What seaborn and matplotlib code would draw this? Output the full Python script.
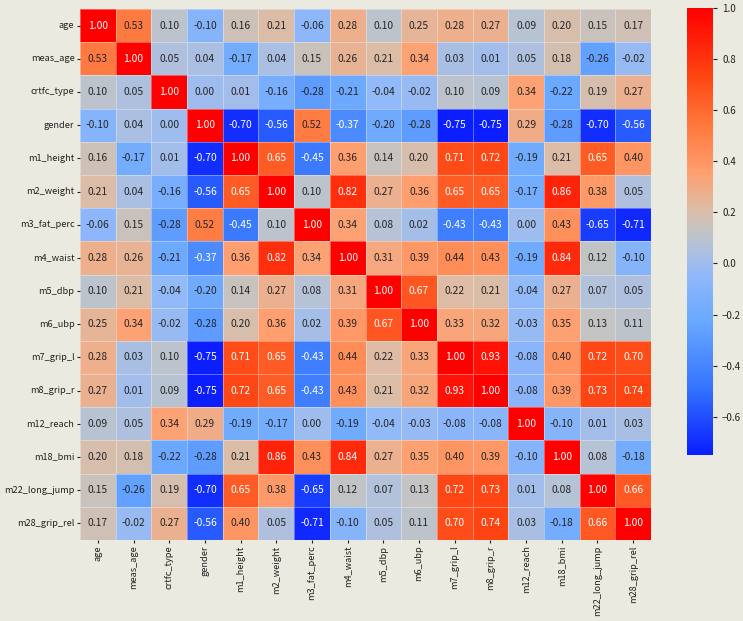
import numpy as np
import pandas as pd
import matplotlib
matplotlib.use("Agg")
import matplotlib.pyplot as plt
import seaborn as sns
from matplotlib.colors import LinearSegmentedColormap

# Variable names (rows and columns of the correlation matrix)
labels = ["age", "meas_age", "crtfc_type", "gender", "m1_height", "m2_weight",
          "m3_fat_perc", "m4_waist", "m5_dbp", "m6_ubp", "m7_grip_l", "m8_grip_r",
          "m12_reach", "m18_bmi", "m22_long_jump", "m28_grip_rel"]

# Correlation values, one row per variable
age = [1.00, 0.53, 0.10, -0.10, 0.16, 0.21, -0.06, 0.28, 0.10, 0.25, 0.28, 0.27, 0.09, 0.20, 0.15, 0.17]
meas_age = [0.53, 1.00, 0.05, 0.04, -0.17, 0.04, 0.15, 0.26, 0.21, 0.34, 0.03, 0.01, 0.05, 0.18, -0.26, -0.02]
crtfc_type = [0.10, 0.05, 1.00, 0.00, 0.01, -0.16, -0.28, -0.21, -0.04, -0.02, 0.10, 0.09, 0.34, -0.22, 0.19, 0.27]
gender = [-0.10, 0.04, 0.00, 1.00, -0.70, -0.56, 0.52, -0.37, -0.20, -0.28, -0.75, -0.75, 0.29, -0.28, -0.70, -0.56]
m1_height = [0.16, -0.17, 0.01, -0.70, 1.00, 0.65, -0.45, 0.36, 0.14, 0.20, 0.71, 0.72, -0.19, 0.21, 0.65, 0.40]
m2_weight = [0.21, 0.04, -0.16, -0.56, 0.65, 1.00, 0.10, 0.82, 0.27, 0.36, 0.65, 0.65, -0.17, 0.86, 0.38, 0.05]
m3_fat_perc = [-0.06, 0.15, -0.28, 0.52, -0.45, 0.10, 1.00, 0.34, 0.08, 0.02, -0.43, -0.43, 0.00, 0.43, -0.65, -0.71]
m4_waist = [0.28, 0.26, -0.21, -0.37, 0.36, 0.82, 0.34, 1.00, 0.31, 0.39, 0.44, 0.43, -0.19, 0.84, 0.12, -0.10]
m5_dbp = [0.10, 0.21, -0.04, -0.20, 0.14, 0.27, 0.08, 0.31, 1.00, 0.67, 0.22, 0.21, -0.04, 0.27, 0.07, 0.05]
m6_ubp = [0.25, 0.34, -0.02, -0.28, 0.20, 0.36, 0.02, 0.39, 0.67, 1.00, 0.33, 0.32, -0.03, 0.35, 0.13, 0.11]
m7_grip_l = [0.28, 0.03, 0.10, -0.75, 0.71, 0.65, -0.43, 0.44, 0.22, 0.33, 1.00, 0.93, -0.08, 0.40, 0.72, 0.70]
m8_grip_r = [0.27, 0.01, 0.09, -0.75, 0.72, 0.65, -0.43, 0.43, 0.21, 0.32, 0.93, 1.00, -0.08, 0.39, 0.73, 0.74]
m12_reach = [0.09, 0.05, 0.34, 0.29, -0.19, -0.17, 0.00, -0.19, -0.04, -0.03, -0.08, -0.08, 1.00, -0.10, 0.01, 0.03]
m18_bmi = [0.20, 0.18, -0.22, -0.28, 0.21, 0.86, 0.43, 0.84, 0.27, 0.35, 0.40, 0.39, -0.10, 1.00, 0.08, -0.18]
m22_long_jump = [0.15, -0.26, 0.19, -0.70, 0.65, 0.38, -0.65, 0.12, 0.07, 0.13, 0.72, 0.73, 0.01, 0.08, 1.00, 0.66]
m28_grip_rel = [0.17, -0.02, 0.27, -0.56, 0.40, 0.05, -0.71, -0.10, 0.05, 0.11, 0.70, 0.74, 0.03, -0.18, 0.66, 1.00]

rows = [age, meas_age, crtfc_type, gender, m1_height, m2_weight, m3_fat_perc, m4_waist,
        m5_dbp, m6_ubp, m7_grip_l, m8_grip_r, m12_reach, m18_bmi, m22_long_jump, m28_grip_rel]
corr = pd.DataFrame(rows, index=labels, columns=labels)

# blue -> light blue -> grey -> salmon -> red
cmap = LinearSegmentedColormap.from_list(
    "blue_grey_red",
    [
        (0.00, "#0a1eff"),
        (0.15, "#3474ff"),
        (0.30, "#6aa8ff"),
        (0.40, "#90b8fa"),
        (0.47, "#b4c2d8"),
        (0.50, "#c2c4c4"),
        (0.55, "#dcbca6"),
        (0.63, "#ffa070"),
        (0.75, "#ff7438"),
        (0.85, "#ff4412"),
        (1.00, "#ff0000"),
    ],
)

bg = "#eaeae0"
plt.rcParams["font.family"] = ["Noto Sans CJK KR", "DejaVu Sans"]

fig = plt.figure(figsize=(7.43, 6.21), dpi=100, facecolor=bg)
ax = fig.add_axes([0.1077, 0.1304, 0.7685, 0.8551])
cax = fig.add_axes([0.9246, 0.2673, 0.035, 0.7197])

sns.heatmap(
    corr,
    annot=True,
    fmt=".2f",
    cmap=cmap,
    linewidths=0.5,
    linecolor=(1, 1, 1, 0.35),
    annot_kws={"fontsize": 7.4},
    ax=ax,
    cbar_ax=cax,
)

# text colour: white only on the strongest cells, as in the original
flat = corr.values.flatten()
for txt, v in zip(ax.texts, flat):
    txt.set_color("white" if (v < -0.3 or v > 0.6) else "#262626")

ax.set_facecolor(bg)
ax.tick_params(axis="both", length=2, pad=2, labelsize=6.6, colors="#222222")
ax.set_xticklabels(labels, rotation=90)
ax.set_yticklabels(labels, rotation=0)

cax.tick_params(labelsize=7, length=3, colors="#222222")
cax.set_yticks([-0.6, -0.4, -0.2, 0.0, 0.2, 0.4, 0.6, 0.8, 1.0])
for s in cax.spines.values():
    s.set_visible(False)

fig.savefig("out.png", dpi=100, facecolor=bg)
